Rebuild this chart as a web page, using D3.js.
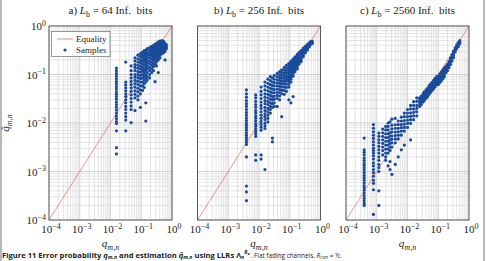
<!DOCTYPE html>
<html>
<head>
<meta charset="utf-8">
<style>
  body { margin: 0; background: #fff; }
  svg { display: block; }
</style>
</head>
<body>
<svg id="chart" width="487" height="261"></svg>
<script src="https://cdn.jsdelivr.net/npm/d3@7"></script>
<script>
// ---- data ----
const panelLetters = ['a)', 'b)', 'c)'];
const infoBits = [64, 256, 2560];
const tickExponents = [-4, -3, -2, -1, 0];
const equalityLine = [1e-4, 1];

// each entry: [q_mn, [estimated q̂_mn values at that q_mn]]
const samplesA = [
  [0.0156, [0.136, 0.12, 0.105, 0.093, 0.082, 0.072, 0.064, 0.056, 0.05, 0.044, 0.039, 0.035, 0.031, 0.027, 0.024, 0.021, 0.0185, 0.016, 0.014, 0.0123, 0.0107, 0.0098, 0.0069, 0.0031, 0.0023]],
  [0.0313, [0.18, 0.07, 0.061, 0.053, 0.046, 0.04, 0.035, 0.03, 0.026, 0.022, 0.019, 0.016, 0.0135, 0.0115, 0.0069]],
  [0.0469, [0.15, 0.12, 0.1, 0.085, 0.072, 0.062, 0.053, 0.045, 0.038, 0.032, 0.027, 0.0225, 0.019, 0.0102]],
  [0.0625, [0.22, 0.19, 0.16, 0.14, 0.12, 0.1, 0.088, 0.076, 0.065, 0.055, 0.046, 0.039, 0.033, 0.018]],
  [0.0781, [0.25, 0.21, 0.18, 0.155, 0.135, 0.115, 0.1, 0.086, 0.073, 0.062, 0.052, 0.044, 0.036, 0.03]],
  [0.0938, [0.27, 0.235, 0.2, 0.175, 0.15, 0.13, 0.112, 0.096, 0.082, 0.07, 0.058, 0.048, 0.04, 0.021]],
  [0.1094, [0.29, 0.25, 0.22, 0.19, 0.165, 0.14, 0.12, 0.1, 0.085, 0.07, 0.058, 0.047]],
  [0.125, [0.31, 0.27, 0.235, 0.205, 0.18, 0.155, 0.13, 0.11, 0.093, 0.078, 0.065, 0.054]],
  [0.1406, [0.32, 0.28, 0.245, 0.215, 0.19, 0.165, 0.14, 0.12, 0.1, 0.085, 0.07, 0.026, 0.011]],
  [0.1563, [0.34, 0.3, 0.26, 0.23, 0.2, 0.175, 0.15, 0.13, 0.11, 0.09, 0.077]],
  [0.1875, [0.36, 0.32, 0.28, 0.25, 0.22, 0.19, 0.165, 0.14, 0.12, 0.1, 0.085]],
  [0.2188, [0.38, 0.34, 0.3, 0.27, 0.24, 0.21, 0.18, 0.155, 0.13, 0.11]],
  [0.25, [0.4, 0.36, 0.32, 0.29, 0.26, 0.23, 0.2, 0.17, 0.145, 0.12]],
  [0.2813, [0.42, 0.38, 0.34, 0.31, 0.28, 0.25, 0.22, 0.19, 0.16, 0.071]],
  [0.3125, [0.44, 0.4, 0.36, 0.33, 0.3, 0.27, 0.24, 0.21, 0.18, 0.15]],
  [0.3594, [0.47, 0.43, 0.39, 0.35, 0.32, 0.29, 0.26, 0.23, 0.2, 0.11]],
  [0.4063, [0.49, 0.45, 0.41, 0.37, 0.34, 0.31, 0.28, 0.25, 0.22]],
  [0.4688, [0.5, 0.46, 0.42, 0.39, 0.36, 0.33, 0.3, 0.27]],
  [0.5313, [0.48, 0.44, 0.4, 0.37, 0.34, 0.31, 0.28]],
  [0.5938, [0.44, 0.4, 0.36, 0.33, 0.3, 0.2]],
  [0.6563, [0.41, 0.37, 0.34]]
];

const samplesB = [
  [0.0039, [0.048, 0.04, 0.034, 0.029, 0.025, 0.022, 0.019, 0.0165, 0.0145, 0.0128, 0.0113, 0.01, 0.009, 0.008, 0.0071, 0.0063, 0.0056, 0.005, 0.0045, 0.004, 0.0036, 0.002, 0.0005, 0.00038, 0.00025]],
  [0.0078, [0.038, 0.033, 0.028, 0.024, 0.021, 0.018, 0.016, 0.014, 0.0125, 0.011, 0.0097, 0.0086, 0.0076, 0.0067, 0.006, 0.0053, 0.0022, 0.0017]],
  [0.0117, [0.055, 0.045, 0.038, 0.032, 0.027, 0.023, 0.02, 0.017, 0.0145, 0.0125, 0.0108, 0.0094, 0.0082, 0.0071, 0.0022, 0.0018]],
  [0.0156, [0.07, 0.058, 0.048, 0.04, 0.034, 0.029, 0.025, 0.021, 0.018, 0.0155, 0.0135, 0.0117, 0.01, 0.0088, 0.0077, 0.0011]],
  [0.0195, [0.08, 0.066, 0.055, 0.046, 0.039, 0.033, 0.028, 0.024, 0.02, 0.017, 0.0145, 0.0125, 0.0105]],
  [0.0234, [0.09, 0.075, 0.062, 0.052, 0.044, 0.037, 0.031, 0.026, 0.022, 0.019, 0.016]],
  [0.0273, [0.085, 0.07, 0.059, 0.05, 0.042, 0.035, 0.03, 0.025, 0.021, 0.0049, 0.0041]],
  [0.0313, [0.095, 0.08, 0.068, 0.058, 0.049, 0.042, 0.036, 0.031, 0.026, 0.022]],
  [0.0391, [0.105, 0.09, 0.078, 0.067, 0.058, 0.05, 0.043, 0.037, 0.032, 0.022]],
  [0.0469, [0.115, 0.1, 0.087, 0.076, 0.066, 0.057, 0.049, 0.042, 0.036, 0.03]],
  [0.0547, [0.125, 0.11, 0.096, 0.084, 0.073, 0.064, 0.055, 0.047, 0.04, 0.0135]],
  [0.0664, [0.14, 0.123, 0.108, 0.095, 0.083, 0.073, 0.064, 0.055, 0.047, 0.039]],
  [0.0781, [0.155, 0.137, 0.121, 0.107, 0.094, 0.083, 0.073, 0.063, 0.054, 0.045]],
  [0.0938, [0.17, 0.155, 0.14, 0.128, 0.117, 0.107, 0.097, 0.088, 0.08, 0.072, 0.063, 0.055, 0.03]],
  [0.1094, [0.19, 0.175, 0.16, 0.147, 0.135, 0.123, 0.112, 0.1, 0.09, 0.08, 0.07, 0.026]],
  [0.1289, [0.21, 0.195, 0.18, 0.165, 0.152, 0.14, 0.128, 0.116, 0.104, 0.092, 0.035]],
  [0.1484, [0.23, 0.21, 0.195, 0.18, 0.166, 0.153, 0.14, 0.127, 0.114]],
  [0.1758, [0.26, 0.24, 0.222, 0.205, 0.19, 0.175, 0.16, 0.146, 0.13]],
  [0.2031, [0.285, 0.265, 0.245, 0.228, 0.212, 0.196, 0.18, 0.165]],
  [0.2344, [0.31, 0.29, 0.27, 0.252, 0.235, 0.218, 0.2, 0.185]],
  [0.2734, [0.35, 0.33, 0.31, 0.29, 0.27, 0.25, 0.232]],
  [0.3203, [0.38, 0.36, 0.34, 0.32, 0.3, 0.28]],
  [0.375, [0.42, 0.4, 0.38, 0.36, 0.34, 0.32]],
  [0.4297, [0.45, 0.43, 0.41, 0.39, 0.37]],
  [0.4883, [0.48, 0.46, 0.44, 0.42]],
  [0.5391, [0.48, 0.46, 0.44]]
];

const samplesC = [
  [0.00039, [0.0049, 0.0028, 0.0025, 0.0022, 0.0019, 0.0017, 0.0015, 0.00135, 0.0012, 0.00107, 0.00095, 0.00083, 0.00074, 0.00066, 0.00058, 0.00051, 0.00046, 0.00041, 0.00036, 0.00032, 0.00028, 0.00025, 0.00022, 0.0002]],
  [0.00078, [0.0093, 0.0078, 0.0066, 0.0056, 0.0048, 0.0041, 0.0035, 0.003, 0.0027, 0.0024, 0.0021, 0.0018, 0.0015, 0.0013, 0.0011, 0.00095, 0.0008, 0.00066, 0.00057, 0.00042, 0.00013]],
  [0.00117, [0.0062, 0.0053, 0.0045, 0.0039, 0.0033, 0.0028, 0.0024, 0.002, 0.0017, 0.0014, 0.0012, 0.001, 0.0004, 0.0002]],
  [0.00156, [0.0075, 0.0063, 0.0053, 0.0045, 0.0038, 0.0032, 0.0027, 0.0022]],
  [0.00195, [0.0085, 0.0072, 0.006, 0.005, 0.0042, 0.0035, 0.0029, 0.0024, 0.002, 0.0017]],
  [0.00234, [0.01, 0.0085, 0.0072, 0.006, 0.005, 0.0042, 0.0035, 0.0029, 0.0024, 0.0013]],
  [0.0027, [0.0105, 0.0063, 0.0054, 0.0045, 0.0038, 0.0032, 0.0027, 0.0016, 0.0011]],
  [0.0031, [0.012, 0.009, 0.0076, 0.0065, 0.0054, 0.0046, 0.0039, 0.0032, 0.00087]],
  [0.004, [0.0125, 0.0092, 0.0078, 0.0065, 0.0055, 0.0047, 0.0039, 0.0014]],
  [0.005, [0.011, 0.0093, 0.0078, 0.0066, 0.0056, 0.0047, 0.002]],
  [0.0063, [0.0132, 0.011, 0.0093, 0.008, 0.0068, 0.0056, 0.0028]],
  [0.0079, [0.016, 0.0135, 0.0112, 0.0095, 0.0081, 0.0068, 0.0035]],
  [0.01, [0.019, 0.016, 0.0135, 0.0115, 0.0098, 0.0081]],
  [0.0126, [0.023, 0.0195, 0.0162, 0.0138, 0.0117, 0.0098, 0.0045]],
  [0.0158, [0.0275, 0.023, 0.0195, 0.0166, 0.014, 0.0117]],
  [0.02, [0.033, 0.028, 0.023, 0.02, 0.017, 0.014]],
  [0.025, [0.033, 0.03, 0.027, 0.025, 0.022]],
  [0.028, [0.036, 0.033, 0.03, 0.027, 0.024]],
  [0.032, [0.04, 0.036, 0.033, 0.03, 0.027]],
  [0.035, [0.044, 0.04, 0.036, 0.033, 0.029]],
  [0.04, [0.048, 0.044, 0.04, 0.036, 0.032]],
  [0.045, [0.052, 0.048, 0.044, 0.04, 0.035]],
  [0.05, [0.058, 0.052, 0.048, 0.044, 0.039]],
  [0.056, [0.063, 0.058, 0.052, 0.048, 0.043]],
  [0.063, [0.069, 0.063, 0.058, 0.052, 0.047]],
  [0.071, [0.076, 0.069, 0.063, 0.058, 0.051]],
  [0.079, [0.083, 0.076, 0.069, 0.063, 0.056]],
  [0.089, [0.091, 0.083, 0.076, 0.069, 0.062]],
  [0.1, [0.093, 0.085, 0.078, 0.069, 0.062]],
  [0.112, [0.102, 0.093, 0.085, 0.076, 0.068]],
  [0.126, [0.112, 0.102, 0.093, 0.083, 0.074]],
  [0.141, [0.123, 0.112, 0.102, 0.091, 0.082]],
  [0.158, [0.135, 0.123, 0.112, 0.1, 0.09]],
  [0.178, [0.148, 0.135, 0.123, 0.11]],
  [0.2, [0.162, 0.148, 0.135, 0.12]],
  [0.224, [0.186, 0.17, 0.155, 0.138]],
  [0.251, [0.219, 0.2, 0.182, 0.162]],
  [0.282, [0.257, 0.234, 0.214, 0.19]],
  [0.316, [0.302, 0.275, 0.251, 0.224]],
  [0.355, [0.355, 0.324, 0.295]],
  [0.398, [0.407, 0.372, 0.339]],
  [0.447, [0.457, 0.417, 0.38]],
  [0.5, [0.5, 0.465, 0.43]]
];

const allSamples = [samplesA, samplesB, samplesC];

// ---- layout ----
const svg = d3.select('#chart');
const serif = "'Liberation Serif', 'DejaVu Serif', serif";
const sans = "'Open Sans', 'Noto Sans', sans-serif";
const plotTop = 26, plotH = 194, plotW = 123;
const firstLeft = 49, panelStep = 148.5;
const dotColor = '#1a4c9c';

// page frame lines
svg.append('line').attr('x1', 1).attr('x2', 1).attr('y1', 0).attr('y2', 261)
  .attr('stroke', '#8a8a8a').attr('stroke-width', 1.2);
svg.append('line').attr('x1', 484).attr('x2', 484).attr('y1', 0).attr('y2', 261)
  .attr('stroke', '#8a8a8a').attr('stroke-width', 1.2);

// minor + major grid positions
const gridVals = [];
d3.range(-4, 0).forEach(e => {
  for (let m = 1; m <= 9; m++) gridVals.push(m * Math.pow(10, e));
});
gridVals.push(1);
const isMajor = d => tickExponents.some(e => Math.abs(Math.pow(10, e) - d) < 1e-12);

function powerLabel(sel, exp) {
  sel.append('tspan').text('10');
  sel.append('tspan').attr('dy', -4.5).attr('font-size', 8)
    .text(exp < 0 ? '\u2212' + Math.abs(exp) : String(exp));
}

allSamples.forEach((samples, i) => {
  const x0 = firstLeft + i * panelStep;
  const x = d3.scaleLog().domain([1e-4, 1]).range([x0, x0 + plotW]);
  const y = d3.scaleLog().domain([1e-4, 1]).range([plotTop + plotH, plotTop]);
  const g = svg.append('g');

  // grid
  g.append('g').selectAll('line').data(gridVals).join('line')
    .attr('x1', d => x(d)).attr('x2', d => x(d))
    .attr('y1', plotTop).attr('y2', plotTop + plotH)
    .attr('stroke', d => isMajor(d) ? '#c2c2c2' : '#d8d8d8')
    .attr('stroke-width', 0.7);
  g.append('g').selectAll('line').data(gridVals).join('line')
    .attr('y1', d => y(d)).attr('y2', d => y(d))
    .attr('x1', x0).attr('x2', x0 + plotW)
    .attr('stroke', d => isMajor(d) ? '#c2c2c2' : '#d8d8d8')
    .attr('stroke-width', 0.7);

  // equality line
  g.append('path')
    .datum(equalityLine)
    .attr('d', d3.line().x(d => x(d)).y(d => y(d)))
    .attr('fill', 'none')
    .attr('stroke', '#e06a64')
    .attr('stroke-width', 0.7);

  // samples
  const pts = samples.flatMap(([q, ests]) => ests.map(v => [q, v]));
  g.append('g').selectAll('circle').data(pts).join('circle')
    .attr('cx', d => x(d[0]))
    .attr('cy', d => y(d[1]))
    .attr('r', 1.6)
    .attr('fill', dotColor);

  // frame
  g.append('rect')
    .attr('x', x0).attr('y', plotTop).attr('width', plotW).attr('height', plotH)
    .attr('fill', 'none').attr('stroke', '#3a3a3a').attr('stroke-width', 0.8);

  // x tick labels
  g.append('g').selectAll('text').data(tickExponents).join('text')
    .attr('x', d => x(Math.pow(10, d)) + 2)
    .attr('y', plotTop + plotH + 13)
    .attr('text-anchor', 'middle')
    .attr('font-family', serif).attr('font-size', 11).attr('fill', '#222')
    .each(function (d) { powerLabel(d3.select(this), d); });

  // y tick labels (first panel only)
  if (i === 0) {
    g.append('g').selectAll('text').data(tickExponents).join('text')
      .attr('x', x0 - 3)
      .attr('y', d => y(Math.pow(10, d)) + 4)
      .attr('text-anchor', 'end')
      .attr('font-family', serif).attr('font-size', 11).attr('fill', '#222')
      .each(function (d) { powerLabel(d3.select(this), d); });

    const yl = svg.append('text')
      .attr('transform', `translate(9,${plotTop + plotH / 2}) rotate(-90)`)
      .attr('text-anchor', 'middle')
      .attr('font-family', serif).attr('font-size', 11).attr('fill', '#222');
    yl.append('tspan').attr('font-style', 'italic').text('q\u0302');
    yl.append('tspan').attr('font-style', 'italic').attr('font-size', 8).attr('dy', 2.5).text('m,n');
  }

  // x axis label
  const xl = g.append('text')
    .attr('x', x0 + plotW / 2)
    .attr('y', plotTop + plotH + 27)
    .attr('text-anchor', 'middle')
    .attr('font-family', serif).attr('font-size', 11).attr('fill', '#222');
  xl.append('tspan').attr('font-style', 'italic').text('q');
  xl.append('tspan').attr('font-style', 'italic').attr('font-size', 8).attr('dy', 2.5).text('m,n');

  // panel title
  const tt = g.append('text')
    .attr('x', x0 + plotW / 2)
    .attr('y', 14)
    .attr('text-anchor', 'middle')
    .attr('font-family', serif).attr('font-size', 11).attr('fill', '#222');
  tt.append('tspan').text(panelLetters[i] + ' ');
  tt.append('tspan').attr('font-style', 'italic').text('L');
  tt.append('tspan').attr('font-size', 8).attr('dy', 2.5).text('b');
  tt.append('tspan').attr('dy', -2.5).text(' = ' + infoBits[i] + ' Inf.\u2002bits');

  // legend (first panel)
  if (i === 0) {
    const lg = g.append('g');
    lg.append('rect').attr('x', x0 + 2.5).attr('y', 31.5).attr('width', 58.5).attr('height', 25)
      .attr('fill', '#fff').attr('stroke', '#555').attr('stroke-width', 0.6);
    lg.append('line').attr('x1', x0 + 8).attr('x2', x0 + 24).attr('y1', 39).attr('y2', 39)
      .attr('stroke', '#e06a64').attr('stroke-width', 0.8);
    lg.append('circle').attr('cx', x0 + 16).attr('cy', 50).attr('r', 1.6).attr('fill', dotColor);
    lg.selectAll('text').data(['Equality', 'Samples']).join('text')
      .attr('x', x0 + 27).attr('y', (d, k) => 42 + k * 11)
      .attr('font-family', serif).attr('font-size', 9).attr('fill', '#222')
      .text(d => d);
  }
});

// caption: bold title part, then regular description
const cap = svg.append('text')
  .attr('x', 2).attr('y', 257.5)
  .attr('font-family', sans)
  .attr('font-size', 7.6).attr('fill', '#1a1a1a');
const bold = (t) => cap.append('tspan').attr('font-weight', 'bold').text(t);
bold('Figure 11 Error probability ');
bold('q').attr('font-style', 'italic');
bold('m,n').attr('font-style', 'italic').attr('font-size', 5.2).attr('dy', 1.5);
bold(' and estimation ').attr('dy', -1.5);
bold('q\u0302').attr('font-style', 'italic');
bold('m,n').attr('font-style', 'italic').attr('font-size', 5.2).attr('dy', 1.5);
bold(' using LLRs \u039B').attr('dy', -1.5);
bold('n').attr('font-style', 'italic').attr('font-size', 5.2).attr('dy', 1.5);
bold('R').attr('font-style', 'italic').attr('font-size', 5.2).attr('dy', -4.7);
bold('e').attr('font-style', 'italic').attr('font-size', 4).attr('dy', 1);
cap.append('tspan').attr('dx', 1).attr('dy', 2.2).attr('font-size', 6.4).text('. Flat fading channels. ');
cap.append('tspan').attr('font-style', 'italic').attr('font-size', 6.4).text('R');
cap.append('tspan').attr('font-size', 4.6).attr('dy', 1.4).text('con');
cap.append('tspan').attr('font-size', 6.4).attr('dy', -1.4).text(' = \u00BD.');
</script>
</body>
</html>
